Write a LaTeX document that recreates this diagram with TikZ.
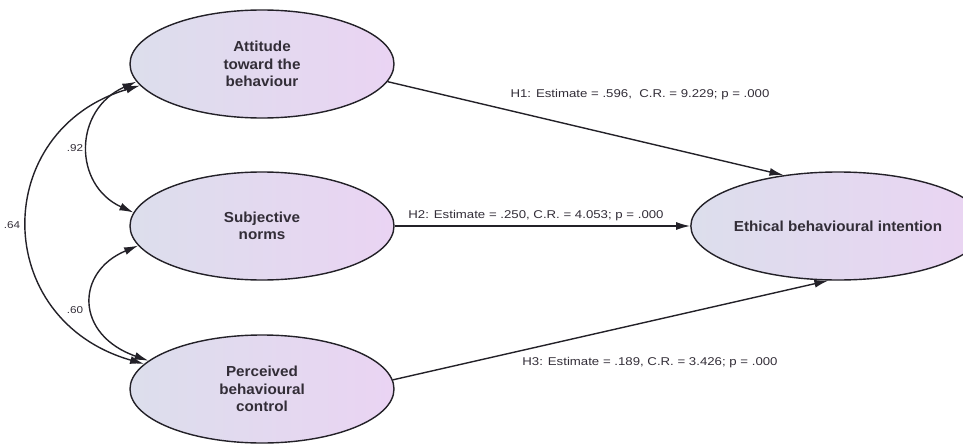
\documentclass[tikz,border=0pt]{standalone}
\usepackage{fontspec}
\setmainfont{Liberation Sans}
\newfontfamily\lblfont[FakeStretch=1.17]{Liberation Sans}
\newfontfamily\elfont[FakeStretch=1.05]{Liberation Sans}
\usetikzlibrary{shapes.geometric,arrows.meta}
\definecolor{elleft}{RGB}{220,222,236}
\definecolor{elright}{RGB}{234,212,243}
\definecolor{ink}{RGB}{35,33,40}
\definecolor{txt}{RGB}{50,45,55}
\tikzset{
  latent/.style={ellipse, draw=ink, line width=1.4pt, left color=elleft, right color=elright,
    minimum width=264pt, minimum height=108pt, inner sep=0pt, align=center,
    text=txt, font=\elfont\bfseries\fontsize{14.5}{17.5}\selectfont},
  path/.style={draw=ink, line width=1.4pt, -{Latex[length=14pt,width=8pt]}},
  cov/.style={draw=ink, line width=1.4pt, {Latex[length=14pt,width=8pt]}-{Latex[length=14pt,width=8pt]}},
  lbl/.style={text=txt, inner sep=0pt, font=\lblfont\fontsize{11.3}{13}\selectfont},
  clbl/.style={text=txt, inner sep=0pt, font=\lblfont\fontsize{10}{12}\selectfont}
}
\begin{document}
\begin{tikzpicture}[x=1pt,y=-1pt]
\useasboundingbox (0,0) rectangle (963,444);
\node[latent] (A) at (262,64) {Attitude\\toward the\\behaviour};
\node[latent] (S) at (262,226) {Subjective\\norms};
\node[latent] (P) at (262,389) {Perceived\\behavioural\\control};
\node[latent, minimum width=252pt] (E) at (838,226) {Ethical behavioural intention};

\path[path] (A.-8) -- (E.137);
\path[path] (S.east) -- (E.west);
\path[path] (P.4) -- (E.260);

\path[cov] (A.188) .. controls (73,110) and (73,185) .. (S.174);
\path[cov] (S.189) .. controls (75,272) and (75,335) .. (P.166);
\path[cov] (A.190) .. controls (-10,130) and (-10,320) .. (P.168);

\node[lbl] (l1) at (640,95) {H1: Estimate = .596,\ \ C.R. = 9.229; p = .000};
\node[lbl] (l2) at (536,216) {H2: Estimate = .250, C.R. = 4.053; p = .000};
\node[lbl] (l3) at (650,363) {H3: Estimate = .189, C.R. = 3.426; p = .000};

\node[clbl] (c1) at (75,148) {.92};
\node[clbl] (c2) at (75,310) {.60};
\node[clbl] (c3) at (12,225) {.64};
\end{tikzpicture}
\end{document}
